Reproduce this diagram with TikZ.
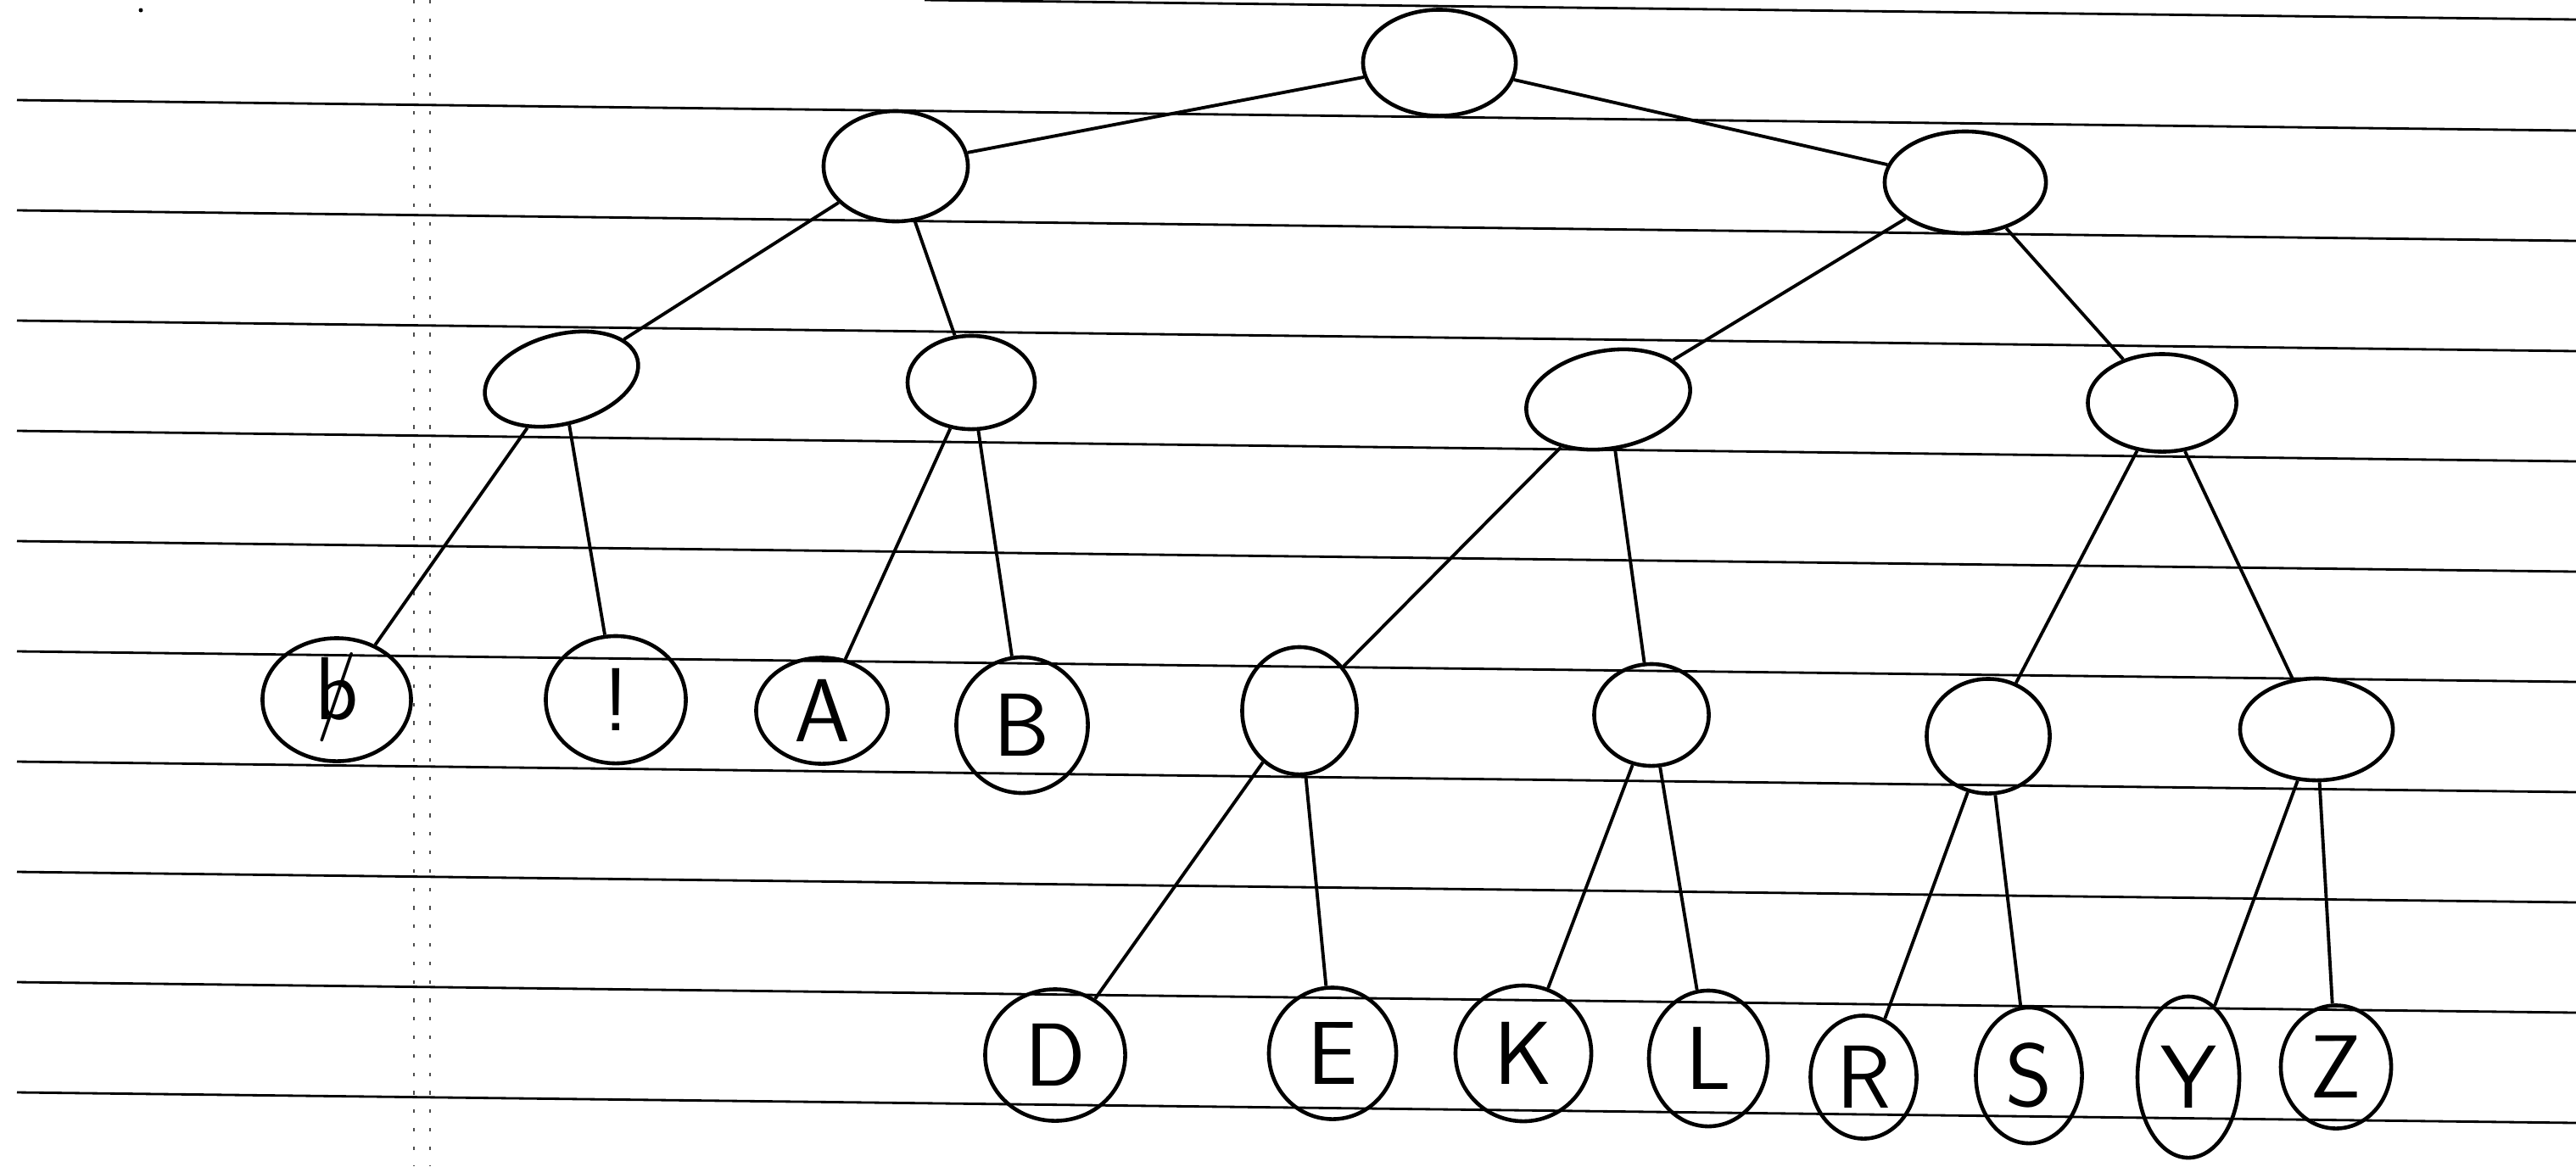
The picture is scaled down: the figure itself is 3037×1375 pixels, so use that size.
\documentclass[tikz,border=0pt]{standalone}
\usetikzlibrary{shapes.geometric}
\begin{document}
\begin{tikzpicture}[x=0.01cm,y=-0.01cm,
  rule/.style={line width=0.8pt,black},
  margin/.style={line width=0.7pt,black!70,dash pattern=on 1.2pt off 5pt},
  nd/.style={ellipse,draw,line width=1.3pt,inner sep=0pt,font=\fontsize{30}{34}\selectfont\sffamily},
  edge/.style={line width=1.1pt}]
\useasboundingbox (0,0) rectangle (3037,1375);
% lined paper
\foreach \yy in {118,248,378,508,638,768,898,1028,1158,1288}
  \draw[rule] (20,\yy) -- (3037,\yy+36);
\draw[rule] (1090,0) -- (3037,23);
\draw[margin] (488,0) -- (488,1375);
\draw[margin] (507,0) -- (507,1375);
\fill (166,12) circle (2.5);
% nodes
\node[nd,minimum width=18mm,minimum height=12.5mm] (root) at (1697,74) {};
\node[nd,minimum width=17mm,minimum height=13mm] (n1L) at (1056,196) {};
\node[nd,minimum width=19mm,minimum height=12mm] (n1R) at (2317,215) {};
\node[nd,minimum width=18.5mm,minimum height=10.5mm,rotate=15] (n2a) at (662,447) {};
\node[nd,minimum width=15mm,minimum height=11mm] (n2b) at (1145,451) {};
\node[nd,minimum width=19.5mm,minimum height=11.5mm,rotate=10] (n2c) at (1896,471) {};
\node[nd,minimum width=17.5mm,minimum height=11.5mm] (n2d) at (2549,475) {};
\node[nd,minimum width=17.5mm,minimum height=14.5mm] (lb) at (397,825) {\ooalign{b\cr\hidewidth/\hidewidth}};
\node[nd,minimum width=16.5mm,minimum height=15mm] (lx) at (726,825) {!};
\node[nd,minimum width=15.5mm,minimum height=12.5mm] (lA) at (969,838) {A};
\node[nd,minimum width=15.5mm,minimum height=16mm] (lB) at (1205,855) {B};
\node[nd,minimum width=13.5mm,minimum height=15mm] (n3a) at (1532,838) {};
\node[nd,minimum width=13.5mm,minimum height=12mm] (n3b) at (1947,843) {};
\node[nd,minimum width=14.5mm,minimum height=13.5mm] (n3c) at (2344,868) {};
\node[nd,minimum width=18mm,minimum height=12mm] (n3d) at (2731,860) {};
\node[nd,minimum width=16.5mm,minimum height=15.5mm] (lD) at (1244,1244) {D};
\node[nd,minimum width=15mm,minimum height=15.5mm] (lE) at (1571,1242) {E};
\node[nd,minimum width=16mm,minimum height=16mm] (lK) at (1796,1242) {K};
\node[nd,minimum width=14mm,minimum height=16mm] (lL) at (2014,1248) {L};
\node[nd,minimum width=12.5mm,minimum height=14.5mm] (lR) at (2197,1270) {R};
\node[nd,minimum width=12.5mm,minimum height=16mm] (lS) at (2392,1268) {S};
\node[nd,minimum width=12mm,minimum height=19mm] (lY) at (2580,1270) {Y};
\node[nd,minimum width=13mm,minimum height=14.5mm] (lZ) at (2754,1258) {Z};
% edges
\draw[edge] (root) -- (n1L);
\draw[edge] (root) -- (n1R);
\draw[edge] (n1L) -- (n2a);
\draw[edge] (n1L) -- (n2b);
\draw[edge] (n1R) -- (n2c);
\draw[edge] (n1R) -- (n2d);
\draw[edge] (n2a) -- (lb);
\draw[edge] (n2a) -- (lx);
\draw[edge] (n2b) -- (lA);
\draw[edge] (n2b) -- (lB);
\draw[edge] (n2c) -- (n3a);
\draw[edge] (n2c) -- (n3b);
\draw[edge] (n2d) -- (n3c);
\draw[edge] (n2d) -- (n3d);
\draw[edge] (n3a) -- (lD);
\draw[edge] (n3a) -- (lE);
\draw[edge] (n3b) -- (lK);
\draw[edge] (n3b) -- (lL);
\draw[edge] (n3c) -- (lR);
\draw[edge] (n3c) -- (lS);
\draw[edge] (n3d) -- (lY);
\draw[edge] (n3d) -- (lZ);
\end{tikzpicture}
\end{document}
